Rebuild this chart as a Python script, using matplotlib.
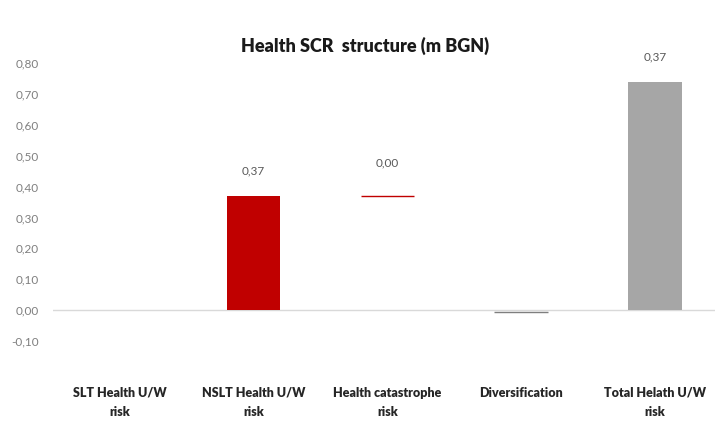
import matplotlib
matplotlib.use("Agg")
import matplotlib.pyplot as plt
from matplotlib.ticker import FuncFormatter, MultipleLocator

plt.rcParams["font.family"] = ["Lato", "DejaVu Sans"]

# waterfall pieces (m BGN)
categories = ["SLT Health U/W\nrisk", "NSLT Health U/W\nrisk", "Health catastrophe\nrisk",
              "Diversification", "Total Helath U/W\nrisk"]
bar_bottom = [0.00, 0.00, 0.37, -0.005, 0.00]
bar_height = [0.00, 0.37, 0.00, 0.00, 0.74]
value_labels = ["", "0,37", "0,00", "", "0,37"]
bar_colors = ["none", "#c00000", "#c00000", "#7f7f7f", "#a6a6a6"]

fig = plt.figure(figsize=(7.15, 4.21), dpi=100)
ax = fig.add_axes([0.074, 0.19, 0.926, 0.66])

x = list(range(len(categories)))
for i in x:
    thin = bar_height[i] == 0
    ax.bar(i, bar_height[i], bottom=bar_bottom[i], width=0.4,
           color=bar_colors[i], edgecolor=bar_colors[i],
           linewidth=1.0 if thin else 0)
    if value_labels[i]:
        ax.annotate(value_labels[i], (i, bar_bottom[i] + bar_height[i]),
                    xytext=(0, 14 if not thin else 20), textcoords="offset points",
                    ha="center", va="bottom", fontsize=8.5, color="#595959")

ax.axhline(0, color="#d9d9d9", lw=1, zorder=0)
ax.set_xlim(-0.5, 4.45)
ax.set_ylim(-0.1, 0.8)
ax.yaxis.set_major_locator(MultipleLocator(0.1))
ax.yaxis.set_major_formatter(FuncFormatter(lambda v, p: f"{v:.2f}".replace(".", ",").replace("-0,00", "0,00")))
ax.set_xticks(x)
ax.set_xticklabels(categories, fontsize=9, fontweight="heavy", color="#262626", linespacing=1.7)
ax.tick_params(axis="x", length=0, pad=33)
ax.tick_params(axis="y", length=0, labelsize=8.5, labelcolor="#7f7f7f", pad=10)
for s in ax.spines.values():
    s.set_visible(False)

fig.text(0.51, 0.89, "Health SCR  structure (m BGN)", ha="center", va="center",
         fontsize=13, fontweight="heavy", color="#1a1a1a")

fig.savefig("out.png", dpi=100, facecolor="white")
